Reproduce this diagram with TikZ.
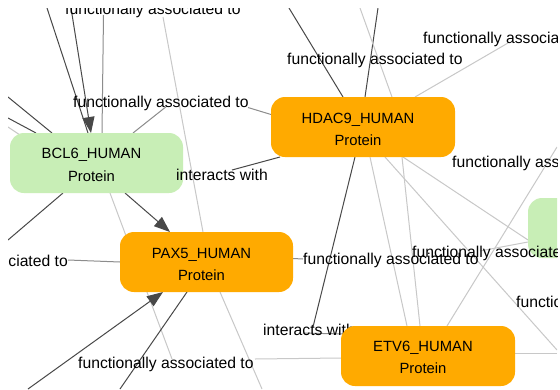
\documentclass[tikz,border=0pt]{standalone}
\usepackage{fontspec}
\setmainfont{Liberation Sans}
\usetikzlibrary{arrows.meta,calc}
\definecolor{orn}{RGB}{255,170,0}
\definecolor{grn}{RGB}{200,238,182}
\definecolor{dkc}{RGB}{72,72,72}
\definecolor{mdc}{RGB}{140,140,140}
\definecolor{ltc}{RGB}{200,200,200}
\pgfdeclarelayer{back}
\pgfdeclarelayer{bg}
\pgfsetlayers{back,bg,main}
\begin{document}
\begin{tikzpicture}[x=1pt,y=-1pt,
  nodebox/.style={rounded corners=14pt, minimum height=60pt, inner sep=0pt, outer sep=0pt},
  prot/.style={nodebox, fill=orn},
  gprot/.style={nodebox, fill=grn},
  ntext/.style={anchor=base, inner sep=0pt, font=\fontsize{14.8}{18}\selectfont},
  elab/.style={inner sep=0pt, font=\fontsize{15.7}{19}\selectfont},
  dkl/.style={draw=dkc, line width=1pt},
  mdl/.style={draw=mdc, line width=1pt},
  ltl/.style={draw=ltc, line width=1pt},
  arr/.style={-{Triangle[length=16pt,width=12pt]}}
]
\begin{pgfonlayer}{back}
\fill[white] (0,0) rectangle (560,389);
\end{pgfonlayer}
\useasboundingbox (0,0) rectangle (560,389);
\begin{scope}
\clip (8,8) rectangle (557,389);
% nodes
\node[gprot, minimum width=173pt] (bcl6) at (96.5,163) {};
\node[prot, minimum width=184pt] (hdac9) at (363,127) {};
\node[prot, minimum width=173pt] (pax5) at (206.5,262) {};
\node[prot, minimum width=174pt] (etv6) at (428,356) {};
\node[gprot, minimum width=175pt] (grn) at (615.5,228) {};
\node[ntext] (bcl6n) at (91.5,158.5) {BCL6\_HUMAN};
\node[ntext] (bcl6p) at (91.5,181) {Protein};
\node[ntext] (hdac9n) at (358,123) {HDAC9\_HUMAN};
\node[ntext] (hdac9p) at (358,145) {Protein};
\node[ntext] (pax5n) at (201.5,258) {PAX5\_HUMAN};
\node[ntext] (pax5p) at (201.5,280) {Protein};
\node[ntext] (etv6n) at (423,351.5) {ETV6\_HUMAN};
\node[ntext] (etv6p) at (423,373.5) {Protein};
% edge labels
\node[elab, anchor=base west] (lblT) at (65,14) {functionally associated to};
\node[elab, anchor=base west] (lblA) at (73,107.5) {functionally associated to};
\node[elab, anchor=base west] (lblIW) at (176,180) {interacts with};
\node[elab, anchor=base east] (lblL) at (68,266) {functionally associated to};
\node[elab, anchor=base west] (lblM) at (303,264) {functionally associated to};
\node[elab, anchor=base west] (lblR) at (412,257) {functionally associated to};
\node[elab, anchor=base west] (lblB) at (78,368) {functionally associated to};
\node[elab, anchor=base west] (lblRT) at (423,43) {functionally associated to};
\node[elab, anchor=base west] (lblTM) at (287,64) {functionally associated to};
\node[elab, anchor=base west] (lblRM) at (452,167) {functionally associated to};
\node[elab, anchor=base west] (lblRB) at (516,307) {functionally associated to};
\end{scope}
\begin{pgfonlayer}{bg}
\begin{scope}
\clip (8,8) rectangle (557,389);
% free ends
\coordinate (f1) at (47,8);
\coordinate (f2) at (71,8);
\coordinate (f3) at (103.5,15);
\coordinate (f4) at (163,17);
\coordinate (f5a) at (8,97);
\coordinate (f5b) at (8,118);
\coordinate (f5c) at (8,127);
\coordinate (f6a) at (167,106);
\coordinate (f6b) at (248,107.5);
\coordinate (f7) at (232,170);
\coordinate (f9) at (8,240);
\coordinate (f10) at (68,260);
\coordinate (f11) at (172,359);
\coordinate (f12) at (255,359);
\coordinate (f13) at (28,389);
\coordinate (f14) at (120,389);
\coordinate (f15) at (303,259);
\coordinate (f16) at (480,251);
\coordinate (f17) at (289,8);
\coordinate (f18) at (378,8);
\coordinate (f19) at (360,8);
\coordinate (f20) at (508,43);
\coordinate (f21) at (313,327);
\coordinate (f22) at (303,333);
\coordinate (f25) at (557,350);
\coordinate (f27) at (557,147);
\coordinate (f28) at (557,353);
\coordinate (f30) at (262,389);
% edges
\draw[dkl] (f1) -- ($(bcl6.north)+(-8.5,0)$);
\draw[dkl,arr] (f2) -- ($(bcl6.north)+(-5.5,0)$);
\draw[mdl] (f3) -- ($(bcl6.north)+(5.5,0)$);
\draw[ltl] (f4) -- ($(pax5.north)+(-3.5,0)$);
\draw[dkl] (f5a) -- ($(bcl6.north)+(-44.5,0)$);
\draw[dkl] (f5b) -- ($(bcl6.north)+(-60.5,0)$);
\draw[ltl] (f5c) -- ($(bcl6.north west)+(10,2)$);
\draw[mdl] ($(bcl6.north)+(36.5,0)$) -- (f6a);
\draw[mdl] (f6b) -- ($(hdac9.west)+(0,-12.5)$);
\draw[dkl] ($(hdac9.south)+(-83,0)$) -- (f7);
\draw[dkl,arr] ($(bcl6.south)+(28.5,0)$) -- ($(pax5.north)+(-36.5,0)$);
\draw[dkl] ($(bcl6.south)+(-33.5,0)$) -- (f9);
\draw[mdl] (f10) -- (pax5.west);
\draw[ltl] ($(bcl6.south)+(13.5,0)$) -- (f11);
\draw[ltl] (f12) -- ($(etv6.west)+(0,2)$);
\draw[dkl,arr] (f13) -- ($(pax5.south)+(-43.5,0)$);
\draw[dkl] (f14) -- ($(pax5.south)+(-19.5,0)$);
\draw[mdl] ($(pax5.east)+(0,-3.5)$) -- (f15);
\draw[ltl] (f16) -- ($(grn.west)+(0,14)$);
\draw[dkl] (f17) -- ($(hdac9.north)+(-20,0)$);
\draw[dkl] (f18) -- ($(hdac9.north)+(2,0)$);
\draw[ltl] (f19) -- ($(hdac9.north)+(29,0)$);
\draw[ltl] ($(hdac9.north)+(52,0)$) -- (f20);
\draw[dkl] ($(hdac9.south)+(-8,0)$) -- (f21);
\draw[mdl] (f22) -- ($(etv6.west)+(2,-22)$);
\draw[ltl] ($(hdac9.south)+(7,0)$) -- ($(etv6.north)+(-21,0)$);
\draw[ltl] ($(hdac9.south)+(39,0)$) -- ($(etv6.north)+(-8,0)$);
\draw[ltl] ($(hdac9.south)+(22,0)$) -- (f25);
\draw[ltl] ($(hdac9.south)+(40,0)$) -- ($(grn.west)+(0,12)$);
\draw[ltl] ($(etv6.north)+(19,0)$) -- (f27);
\draw[ltl] ($(etv6.east)+(0,-3)$) -- (f28);
\draw[ltl] ($(pax5.south)+(13.5,0)$) -- (f30);
\node[elab, anchor=base west] (lblIW2) at (263,335.5) {interacts with};
\end{scope}
\end{pgfonlayer}
\end{tikzpicture}
\end{document}
